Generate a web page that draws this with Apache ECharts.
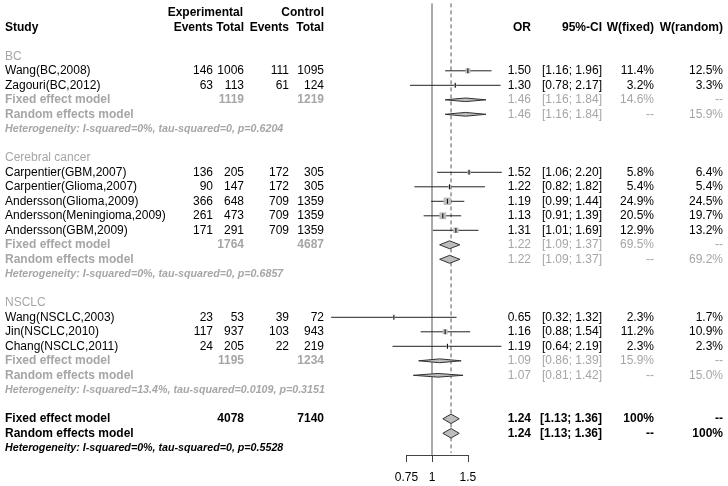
<!DOCTYPE html>
<html><head><meta charset="utf-8">
<script src="https://cdn.jsdelivr.net/npm/echarts@6/dist/echarts.min.js"></script>
<style>html,body{margin:0;padding:0;background:#fff}#c{width:728px;height:486px}</style>
</head><body><div id="c"></div>
<script>
// ---------------- data ----------------
const groupNames = ['BC', 'Cerebral cancer', 'NSCLC'];
const studyNames = ['Wang(BC,2008)', 'Zagouri(BC,2012)',
  'Carpentier(GBM,2007)', 'Carpentier(Glioma,2007)', 'Andersson(Glioma,2009)', 'Andersson(Meningioma,2009)', 'Andersson(GBM,2009)',
  'Wang(NSCLC,2003)', 'Jin(NSCLC,2010)', 'Chang(NSCLC,2011)'];
const studyGroup = [0, 0, 1, 1, 1, 1, 1, 2, 2, 2];
const expEvents = [146, 63, 136, 90, 366, 261, 171, 23, 117, 24];
const expTotal = [1006, 113, 205, 147, 648, 473, 291, 53, 937, 205];
const ctrlEvents = [111, 61, 172, 172, 709, 709, 709, 39, 103, 22];
const ctrlTotal = [1095, 124, 305, 305, 1359, 1359, 1359, 72, 943, 219];
const orValues = [1.50, 1.30, 1.52, 1.22, 1.19, 1.13, 1.31, 0.65, 1.16, 1.19];
const ciLower = [1.16, 0.78, 1.06, 0.82, 0.99, 0.91, 1.01, 0.32, 0.88, 0.64];
const ciUpper = [1.96, 2.17, 2.20, 1.82, 1.44, 1.39, 1.69, 1.32, 1.54, 2.19];
const wFixed = [11.4, 3.2, 5.8, 5.4, 24.9, 20.5, 12.9, 2.3, 11.2, 2.3];
const wRandom = [12.5, 3.3, 6.4, 5.4, 24.5, 19.7, 13.2, 1.7, 10.9, 2.3];

const groupExpTotal = [1119, 1764, 1195];
const groupCtrlTotal = [1219, 4687, 1234];
const groupFixedOR = [1.46, 1.22, 1.09];
const groupFixedLo = [1.16, 1.09, 0.86];
const groupFixedHi = [1.84, 1.37, 1.39];
const groupFixedW = [14.6, 69.5, 15.9];
const groupRandomOR = [1.46, 1.22, 1.07];
const groupRandomLo = [1.16, 1.09, 0.81];
const groupRandomHi = [1.84, 1.37, 1.42];
const groupRandomW = [15.9, 69.2, 15.0];
const groupHet = [
  'Heterogeneity: I-squared=0%, tau-squared=0, p=0.6204',
  'Heterogeneity: I-squared=0%, tau-squared=0, p=0.6857',
  'Heterogeneity: I-squared=13.4%, tau-squared=0.0109, p=0.3151'];

const overallExpTotal = 4078;
const overallCtrlTotal = 7140;
const overallFixed = [1.24, 1.13, 1.36];
const overallRandom = [1.24, 1.13, 1.36];
const overallFixedW = 100;
const overallRandomW = 100;
const overallHet = 'Heterogeneity: I-squared=0%, tau-squared=0, p=0.5528';

const tickValues = [0.75, 1, 1.5];

// ---------------- layout / style ----------------
const ROW0 = 12.8, ROWH = 14.5, Y_MIN = -0.5, Y_MAX = 30.5;
const gridTop = ROW0 + Y_MIN * ROWH;
const gridBottom = 486 - (ROW0 + Y_MAX * ROWH);
const PX_ONE = 432, PX_PER_LN = 88.5;
const fx = v => PX_ONE + PX_PER_LN * Math.log(v);
const forestLeft = fx(tickValues[0]);
const forestRight = fx(tickValues[tickValues.length - 1]);

const FONT = '"Liberation Sans", Arial, sans-serif';
const BLACK = '#000', GRAY = '#a6a6a6';
const COL = { study: 5, expE: 213, expT: 244, ctlE: 289, ctlT: 324, or: 531, ci: 602, wf: 654, wr: 723 };
const HET_SIZE = 10.7;

const fmt2 = v => v.toFixed(2);
const fmtCI = (l, h) => '[' + l.toFixed(2) + '; ' + h.toFixed(2) + ']';
const fmtW = w => (w === 100 ? '100%' : w.toFixed(1) + '%');

const texts = [];   // {x,row,text,align,size,weight,style,color}
const marks = [];   // forest elements
function T(x, row, text, align, o) {
  o = o || {};
  texts.push({ x, row, text: String(text), align, size: o.size || 12, weight: o.weight || 'normal', style: o.style || 'normal', color: o.color || BLACK });
}

// headers
T(COL.expT - 1, 0, 'Experimental', 'right', { weight: 'bold' });
T(COL.ctlT, 0, 'Control', 'right', { weight: 'bold' });
T(COL.study, 1, 'Study', 'left', { weight: 'bold' });
T(COL.expE, 1, 'Events', 'right', { weight: 'bold' });
T(COL.expT, 1, 'Total', 'right', { weight: 'bold' });
T(COL.ctlE, 1, 'Events', 'right', { weight: 'bold' });
T(COL.ctlT, 1, 'Total', 'right', { weight: 'bold' });
T(COL.or, 1, 'OR', 'right', { weight: 'bold' });
T(COL.ci, 1, '95%-CI', 'right', { weight: 'bold' });
T(COL.wf, 1, 'W(fixed)', 'right', { weight: 'bold' });
T(COL.wr, 1, 'W(random)', 'right', { weight: 'bold' });

let row = 3;
groupNames.forEach((g, gi) => {
  T(COL.study, row, g, 'left', { color: GRAY });
  row++;
  studyNames.forEach((s, i) => {
    if (studyGroup[i] !== gi) return;
    T(COL.study, row, s, 'left');
    T(COL.expE, row, expEvents[i], 'right');
    T(COL.expT, row, expTotal[i], 'right');
    T(COL.ctlE, row, ctrlEvents[i], 'right');
    T(COL.ctlT, row, ctrlTotal[i], 'right');
    T(COL.or, row, fmt2(orValues[i]), 'right');
    T(COL.ci, row, fmtCI(ciLower[i], ciUpper[i]), 'right');
    T(COL.wf, row, fmtW(wFixed[i]), 'right');
    T(COL.wr, row, fmtW(wRandom[i]), 'right');
    marks.push({ kind: 'study', row, est: orValues[i], lo: ciLower[i], hi: ciUpper[i], w: wFixed[i] });
    row++;
  });
  const gopt = { color: GRAY };
  const gb = { color: GRAY, weight: 'bold' };
  T(COL.study, row, 'Fixed effect model', 'left', gb);
  T(COL.expT, row, groupExpTotal[gi], 'right', gb);
  T(COL.ctlT, row, groupCtrlTotal[gi], 'right', gb);
  T(COL.or, row, fmt2(groupFixedOR[gi]), 'right', gopt);
  T(COL.ci, row, fmtCI(groupFixedLo[gi], groupFixedHi[gi]), 'right', gopt);
  T(COL.wf, row, fmtW(groupFixedW[gi]), 'right', gopt);
  T(COL.wr, row, '--', 'right', gopt);
  marks.push({ kind: 'diamond', row, est: groupFixedOR[gi], lo: groupFixedLo[gi], hi: groupFixedHi[gi], w: groupFixedW[gi] });
  row++;
  T(COL.study, row, 'Random effects model', 'left', gb);
  T(COL.or, row, fmt2(groupRandomOR[gi]), 'right', gopt);
  T(COL.ci, row, fmtCI(groupRandomLo[gi], groupRandomHi[gi]), 'right', gopt);
  T(COL.wf, row, '--', 'right', gopt);
  T(COL.wr, row, fmtW(groupRandomW[gi]), 'right', gopt);
  marks.push({ kind: 'diamond', row, est: groupRandomOR[gi], lo: groupRandomLo[gi], hi: groupRandomHi[gi], w: groupRandomW[gi] });
  row++;
  T(COL.study, row, groupHet[gi], 'left', { color: GRAY, weight: 'bold', style: 'italic', size: HET_SIZE });
  row += 2;
});
const bb = { weight: 'bold' };
T(COL.study, row, 'Fixed effect model', 'left', bb);
T(COL.expT, row, overallExpTotal, 'right', bb);
T(COL.ctlT, row, overallCtrlTotal, 'right', bb);
T(COL.or, row, fmt2(overallFixed[0]), 'right', bb);
T(COL.ci, row, fmtCI(overallFixed[1], overallFixed[2]), 'right', bb);
T(COL.wf, row, fmtW(overallFixedW), 'right', bb);
T(COL.wr, row, '--', 'right', bb);
marks.push({ kind: 'diamond', row, est: overallFixed[0], lo: overallFixed[1], hi: overallFixed[2], w: overallFixedW });
row++;
T(COL.study, row, 'Random effects model', 'left', bb);
T(COL.or, row, fmt2(overallRandom[0]), 'right', bb);
T(COL.ci, row, fmtCI(overallRandom[1], overallRandom[2]), 'right', bb);
T(COL.wf, row, '--', 'right', bb);
T(COL.wr, row, fmtW(overallRandomW), 'right', bb);
marks.push({ kind: 'diamond', row, est: overallRandom[0], lo: overallRandom[1], hi: overallRandom[2], w: overallRandomW });
row++;
T(COL.study, row, overallHet, 'left', { weight: 'bold', style: 'italic', size: HET_SIZE });

// reference lines
marks.unshift({ kind: 'vline', est: overallFixed[0], from: -0.65, to: 30.35, dashed: true });
marks.unshift({ kind: 'vline', est: 1, from: -0.65, to: Y_MAX, dashed: false });

// ---------------- chart ----------------
const chart = echarts.init(document.getElementById('c'), null, { renderer: 'canvas' });
const hiddenY = { type: 'value', min: Y_MIN, max: Y_MAX, inverse: true, show: false };

chart.setOption({
  animation: false,
  backgroundColor: '#fff',
  grid: [
    { left: 0, right: 0, top: gridTop, bottom: gridBottom },
    { left: forestLeft, width: forestRight - forestLeft, top: gridTop, bottom: gridBottom }
  ],
  xAxis: [
    { gridIndex: 0, type: 'value', min: 0, max: 728, show: false },
    {
      gridIndex: 1, type: 'log', logBase: 10, min: tickValues[0], max: tickValues[tickValues.length - 1],
      position: 'bottom',
      axisLine: { show: true, onZero: false, lineStyle: { color: '#444', width: 1 } },
      axisTick: { show: true, customValues: tickValues, length: 7, lineStyle: { color: '#444', width: 1 } },
      axisLabel: { show: true, customValues: tickValues, formatter: v => String(v), margin: 17, fontSize: 12, color: '#000', fontFamily: FONT },
      splitLine: { show: false }
    }
  ],
  yAxis: [Object.assign({ gridIndex: 0 }, hiddenY), Object.assign({ gridIndex: 1 }, hiddenY)],
  series: [
    {
      type: 'custom', xAxisIndex: 0, yAxisIndex: 0, silent: true,
      data: texts.map(t => [t.x, t.row]),
      renderItem: (params, api) => {
        const t = texts[params.dataIndex];
        const p = api.coord([t.x, t.row]);
        return {
          type: 'text', x: p[0], y: p[1],
          style: {
            text: t.text, align: t.align, verticalAlign: 'middle',
            textAlign: t.align, textVerticalAlign: 'middle',
            fontSize: t.size, fontFamily: FONT, fontWeight: t.weight, fontStyle: t.style,
            fill: t.color
          }
        };
      }
    },
    {
      type: 'custom', xAxisIndex: 1, yAxisIndex: 1, silent: true, clip: false,
      data: marks.map(m => [m.est, m.row == null ? 0 : m.row]),
      renderItem: (params, api) => {
        const m = marks[params.dataIndex];
        if (m.kind === 'vline') {
          const a = api.coord([m.est, m.from]), b = api.coord([m.est, m.to]);
          return { type: 'line', shape: { x1: a[0], y1: a[1], x2: b[0], y2: b[1] },
            style: { stroke: '#555', lineWidth: 1, lineDash: m.dashed ? [4, 3] : null } };
        }
        const c = api.coord([m.est, m.row]);
        const l = api.coord([m.lo, m.row]);
        const h = api.coord([m.hi, m.row]);
        if (m.kind === 'study') {
          const side = 1.5 * Math.sqrt(m.w);
          return { type: 'group', children: [
            { type: 'line', shape: { x1: l[0], y1: c[1], x2: h[0], y2: c[1] }, style: { stroke: '#222', lineWidth: 1 } },
            { type: 'rect', shape: { x: c[0] - side / 2, y: c[1] - side / 2, width: side, height: side }, style: { fill: '#bdbdbd' } },
            { type: 'line', shape: { x1: c[0], y1: c[1] - 2.5, x2: c[0], y2: c[1] + 2.5 }, style: { stroke: '#000', lineWidth: 1 } }
          ] };
        }
        const hh = 0.95 * Math.sqrt(m.w) / 2;
        return { type: 'polygon', shape: { points: [[l[0], c[1]], [c[0], c[1] - hh], [h[0], c[1]], [c[0], c[1] + hh]] },
          style: { fill: '#bdbdbd', stroke: '#333', lineWidth: 1 } };
      }
    }
  ]
});
</script></body></html>
